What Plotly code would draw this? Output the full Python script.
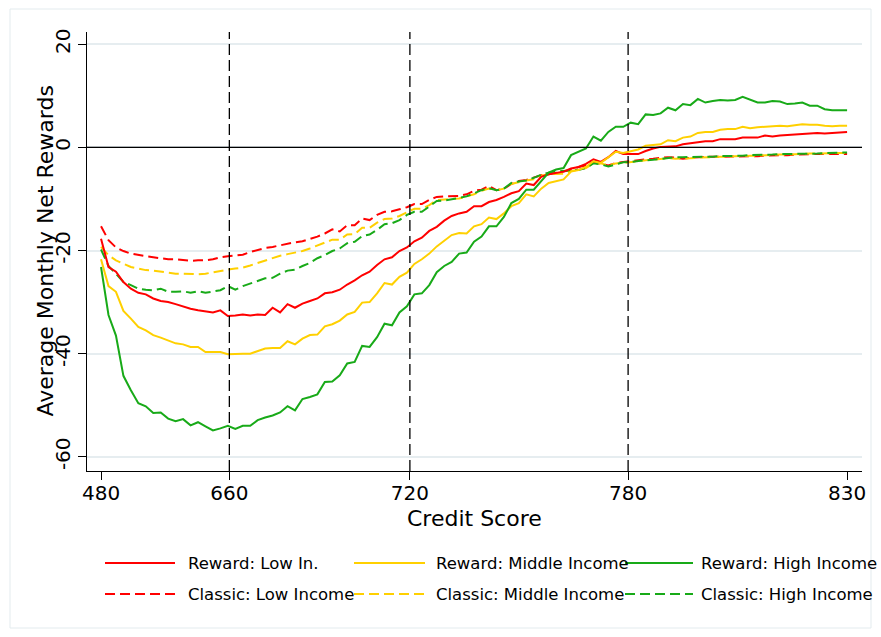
import plotly.graph_objects as go

# Credit-score percentile bins (0..100) and the score labels shown on the axis
pctl = list(range(101))
score_tick_pos = [0, 17.2, 41.4, 70.65, 100]
score_tick_text = ["480", "660", "720", "780", "830"]
cutoff_pos = [17.2, 41.4, 70.65]          # 660 / 720 / 780 reference lines

reward_low = [
    -17.7, -23.2, -24.1, -26.1, -27.4, -28.2, -28.5, -29.3, -29.8, -30.0,
    -30.4, -30.9, -31.3, -31.6, -31.8, -32.0, -31.6, -32.7, -32.6, -32.4,
    -32.6, -32.4, -32.5, -31.1, -32.0, -30.4, -31.1, -30.3, -29.8, -29.3,
    -28.3, -28.1, -27.6, -26.6, -25.8, -24.8, -24.1, -22.8, -21.7, -21.3,
    -20.1, -19.4, -18.2, -17.5, -16.2, -15.4, -14.2, -13.3, -12.8, -12.5,
    -11.4, -11.4, -10.6, -10.2, -9.6, -8.9, -8.5, -7.0, -7.3, -5.7,
    -5.2, -4.9, -4.7, -4.1, -3.8, -3.2, -2.3, -2.8, -1.9, -0.7,
    -1.3, -1.3, -1.3, -0.7, -0.2, 0.1, 0.1, 0.2, 0.6, 0.8,
    1.0, 1.2, 1.2, 1.6, 1.6, 1.6, 1.9, 1.9, 1.9, 2.3,
    2.1, 2.3, 2.4, 2.5, 2.7, 2.8, 2.8, 2.7, 2.8, 2.8, 3.0,
]
reward_mid = [
    -21.7, -26.9, -28.0, -31.7, -33.2, -34.8, -35.5, -36.4, -36.9, -37.4,
    -38.0, -38.2, -38.7, -38.7, -39.7, -39.7, -39.7, -40.1, -40.0, -40.0,
    -40.0, -39.5, -39.0, -38.9, -38.9, -37.6, -38.2, -37.1, -36.4, -36.3,
    -34.7, -34.3, -33.6, -32.4, -31.9, -30.1, -30.0, -28.3, -26.3, -26.6,
    -25.1, -24.3, -22.6, -21.7, -20.6, -19.2, -18.1, -17.0, -16.6, -16.7,
    -15.3, -14.9, -13.6, -13.9, -12.8, -11.4, -10.8, -9.1, -9.5, -8.0,
    -6.9, -6.5, -6.2, -4.7, -4.4, -3.8, -2.7, -3.0, -2.0, -0.85,
    -1.1, -0.8, -0.4, 0.3, 0.45, 0.6, 1.4, 1.2, 1.9, 2.1,
    2.8, 3.0, 3.0, 3.4, 3.55, 3.55, 4.0, 3.7, 3.9, 4.0,
    4.2, 4.2, 4.1, 4.3, 4.5, 4.4, 4.4, 4.2, 4.1, 4.2, 4.2,
]
reward_high = [
    -23.2, -32.5, -36.5, -44.3, -47.1, -49.6, -50.2, -51.5, -51.4, -52.6,
    -53.1, -52.7, -53.9, -53.3, -54.1, -54.9, -54.5, -54.0, -54.6, -54.0,
    -54.0, -52.9, -52.4, -52.0, -51.4, -50.2, -51.0, -48.8, -48.4, -47.9,
    -45.5, -45.4, -44.2, -41.9, -41.6, -38.5, -38.7, -36.8, -34.2, -34.5,
    -32.0, -30.8, -28.5, -28.3, -26.7, -24.2, -23.0, -22.2, -20.6, -20.4,
    -18.3, -17.3, -15.3, -15.3, -13.5, -10.8, -10.0, -8.2, -8.2, -6.5,
    -4.9, -4.3, -4.0, -1.5, -0.9, -0.2, 2.1, 1.3, 3.0, 4.0,
    4.0, 4.8, 4.5, 6.4, 6.3, 6.6, 7.7, 7.2, 8.4, 8.2,
    9.4, 8.7, 9.0, 9.2, 9.1, 9.2, 9.8, 9.3, 8.7, 8.7,
    9.0, 8.9, 8.4, 8.5, 8.7, 8.1, 8.1, 7.4, 7.2, 7.2, 7.2,
]
classic_low = [
    -15.3, -18.0, -19.4, -20.1, -20.6, -20.9, -21.1, -21.3, -21.5, -21.7,
    -21.7, -21.9, -22.0, -21.9, -21.9, -21.7, -21.3, -21.1, -21.0, -20.8,
    -20.3, -19.9, -19.5, -19.3, -19.0, -18.6, -18.4, -18.2, -17.8, -17.3,
    -16.7, -15.9, -16.3, -15.1, -15.1, -13.8, -14.1, -13.1, -12.5, -12.4,
    -12.0, -11.6, -11.0, -11.0, -10.2, -9.6, -9.5, -9.4, -9.4, -9.1,
    -8.4, -8.2, -7.5, -8.3, -8.0, -7.1, -6.5, -6.3, -5.8, -5.4,
    -5.2, -4.9, -4.7, -4.4, -3.8, -3.5, -2.8, -3.1, -3.5, -3.0,
    -2.8, -2.7, -2.4, -2.3, -2.2, -2.1, -1.9, -2.0, -2.2, -2.0,
    -1.9, -1.9, -1.8, -1.8, -1.8, -1.8, -1.7, -1.7, -1.7, -1.6,
    -1.5, -1.5, -1.5, -1.4, -1.3, -1.3, -1.3, -1.3, -1.3, -1.3, -1.3,
]
classic_mid = [
    -19.3, -20.9, -21.9, -22.6, -23.2, -23.5, -23.8, -23.9, -24.1, -24.2,
    -24.5, -24.5, -24.6, -24.6, -24.5, -24.2, -23.9, -23.7, -23.5, -23.3,
    -22.9, -22.4, -21.9, -21.4, -21.0, -20.7, -20.4, -20.1, -19.6, -19.0,
    -18.4, -17.9, -17.9, -16.9, -16.8, -15.6, -15.6, -14.6, -13.9, -13.8,
    -13.3, -12.6, -11.9, -11.9, -11.2, -10.2, -10.1, -9.9, -9.9, -9.5,
    -9.1, -8.4, -8.0, -8.3, -8.0, -7.1, -6.7, -6.4, -6.2, -5.5,
    -5.2, -5.1, -5.1, -4.6, -4.3, -4.0, -3.1, -3.1, -3.5, -3.1,
    -3.0, -2.9, -2.7, -2.5, -2.4, -2.3, -2.1, -2.2, -2.2, -2.1,
    -2.0, -1.9, -1.9, -1.8, -1.8, -1.7, -1.7, -1.6, -1.6, -1.5,
    -1.5, -1.4, -1.4, -1.3, -1.2, -1.2, -1.2, -1.1, -1.1, -1.1, -1.1,
]
classic_high = [
    -19.8, -23.0, -24.5, -26.1, -26.7, -27.4, -27.6, -27.7, -27.4, -28.0,
    -28.0, -27.9, -28.2, -27.9, -28.2, -28.0, -27.7, -26.9, -27.6, -26.9,
    -26.4, -25.8, -25.4, -25.3, -24.5, -23.9, -23.7, -23.0, -22.4, -21.5,
    -20.9, -20.1, -19.6, -18.6, -18.3, -17.2, -16.9, -16.0, -14.9, -14.7,
    -14.1, -13.1, -12.5, -12.5, -11.5, -10.4, -10.3, -10.1, -9.8, -9.5,
    -8.9, -8.3, -7.9, -8.3, -8.0, -6.9, -6.6, -6.4, -5.9, -5.3,
    -4.9, -4.6, -4.6, -4.4, -4.4, -4.0, -3.1, -3.3, -3.7, -3.3,
    -2.9, -2.8, -2.6, -2.5, -2.4, -2.2, -2.1, -1.9, -1.9, -1.9,
    -1.9, -1.8, -1.8, -1.7, -1.7, -1.7, -1.6, -1.5, -1.5, -1.5,
    -1.4, -1.3, -1.3, -1.3, -1.3, -1.2, -1.2, -1.1, -1.0, -1.0, -1.0,
]

y_ticks = [20, 0, -20, -40, -60]

RED, GOLD, GREEN = "#ff0000", "#ffd000", "#18aa18"
DASH = "10px,5px"

# (label, values, colour, dash, legend column, legend row)
series = [
    ("Classic: Low Income", classic_low, RED, DASH, 0, 1),
    ("Classic: Middle Income", classic_mid, GOLD, DASH, 1, 1),
    ("Classic: High Income", classic_high, GREEN, DASH, 2, 1),
    ("Reward: Low In.", reward_low, RED, "solid", 0, 0),
    ("Reward: Middle Income", reward_mid, GOLD, "solid", 1, 0),
    ("Reward: High Income", reward_high, GREEN, "solid", 2, 0),
]

FONT = "DejaVu Sans"
W, H = 881, 637
L, R, T, B = 87, 19, 32, 166
pw, ph = W - L - R, H - T - B


def px_x(p):
    return (p - L) / pw


def px_y(p):
    return (H - B - p) / ph


fig = go.Figure()

for name, vals, col, dash, _, _ in series:
    fig.add_trace(go.Scatter(
        x=pctl, y=vals, mode="lines", name=name, showlegend=False,
        line=dict(color=col, width=2, dash=dash),
    ))

shapes = []
# vertical reference lines at the score cutoffs
for c in cutoff_pos:
    shapes.append(dict(type="line", xref="x", yref="paper", x0=c, x1=c, y0=0, y1=1,
                       line=dict(color="black", width=1.3, dash="11px,5px"), layer="above"))
# zero line
shapes.append(dict(type="line", xref="paper", yref="y", x0=0, x1=1, y0=0, y1=0,
                   line=dict(color="black", width=1.3)))
# outer light frame
shapes.append(dict(type="rect", xref="paper", yref="paper",
                   x0=px_x(10), x1=px_x(871), y0=px_y(628), y1=px_y(9),
                   line=dict(color="#e3ebee", width=1), layer="below"))

# hand-built legend: 3 columns x 2 rows
col_line = [(105, 175), (354, 425), (625, 693)]
col_text = [188, 436, 701]
row_y = [563, 594]
annotations = []
for name, vals, col, dash, c, r in series:
    shapes.append(dict(type="line", xref="paper", yref="paper",
                       x0=px_x(col_line[c][0]), x1=px_x(col_line[c][1]),
                       y0=px_y(row_y[r]), y1=px_y(row_y[r]),
                       line=dict(color=col, width=2, dash=dash)))
    annotations.append(dict(xref="paper", yref="paper", x=px_x(col_text[c] - 2), y=px_y(row_y[r]),
                            xanchor="left", yanchor="middle", showarrow=False, text=name,
                            font=dict(family=FONT, size=16.5, color="black")))

# axis titles
annotations.append(dict(xref="paper", yref="paper", x=px_x(45), y=0.5, xanchor="center",
                        yanchor="middle", showarrow=False, textangle=-90,
                        text="Average Monthly Net Rewards",
                        font=dict(family=FONT, size=22, color="black")))
annotations.append(dict(xref="paper", yref="paper", x=0.5, y=px_y(518), xanchor="center",
                        yanchor="middle", showarrow=False, text="Credit Score",
                        font=dict(family=FONT, size=22, color="black")))

fig.update_layout(
    width=W, height=H,
    margin=dict(l=L, r=R, t=T, b=B, pad=0),
    paper_bgcolor="white", plot_bgcolor="white",
    font=dict(family=FONT, color="black"),
    shapes=shapes, annotations=annotations,
    showlegend=False,
)
fig.update_xaxes(
    range=[-1.88, 102.0], tickmode="array", tickvals=score_tick_pos, ticktext=score_tick_text,
    showgrid=False, zeroline=False, showline=True, linecolor="black", linewidth=1.3,
    ticks="outside", ticklen=8, tickwidth=1.3, tickcolor="black", ticklabelstandoff=-4,
    tickfont=dict(family=FONT, size=20, color="black"),
)
fig.update_yaxes(
    range=[-62.76, 22.38], tickmode="array", tickvals=y_ticks, ticktext=[str(v) for v in y_ticks],
    showgrid=True, gridcolor="#e6edf0", gridwidth=1.5, zeroline=False,
    showline=True, linecolor="black", linewidth=1.3,
    ticks="outside", ticklen=8, tickwidth=1.3, tickcolor="black", tickangle=-90,
    tickfont=dict(family=FONT, size=20, color="black"),
)

fig.write_html("out.html")
